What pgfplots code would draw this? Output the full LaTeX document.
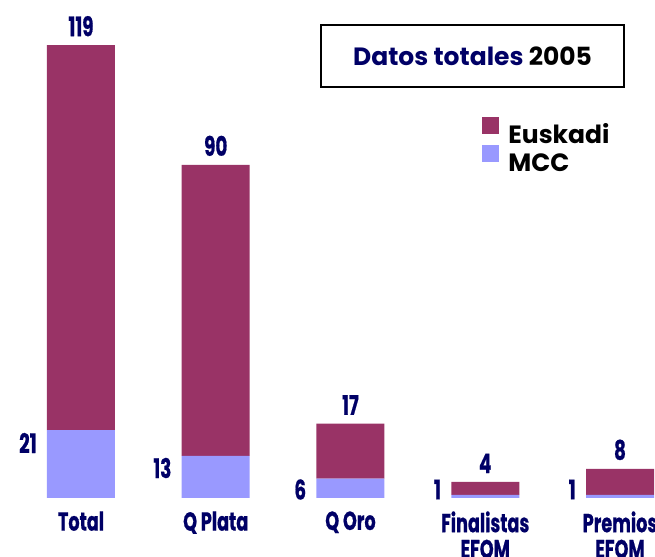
\documentclass[border=0pt]{standalone}
\usepackage{pgfplots}
\pgfplotsset{compat=1.18}
\usepackage{fontspec}
\setmainfont{Poppins}
\newfontfamily\condfont[FakeStretch=0.68, BoldFeatures={FakeBold=0.6}]{Poppins}
\newfontfamily\futfont{Poppins}
\definecolor{plum}{RGB}{153,51,102}
\definecolor{mccblue}{RGB}{153,153,255}
\definecolor{navytext}{RGB}{0,0,102}
\tikzset{
  toplab/.style={font=\condfont\bfseries\fontsize{13.5}{13.5}\selectfont, text=navytext, anchor=south, inner sep=0pt, yshift=4.2pt},
  mcclab/.style={font=\condfont\bfseries\fontsize{13.5}{13.5}\selectfont, text=navytext, anchor=east, inner sep=0pt, xshift=-22pt},
}
\begin{document}
\begin{tikzpicture}
\begin{axis}[
  at={(0pt,29.5pt)}, anchor=south west,
  scale only axis, width=327.5pt, height=249pt,
  xmin=-0.6011, xmax=4.2597, ymin=0, ymax=153.94,
  ybar stacked, bar width=34pt,
  axis line style={draw=none},
  ytick=\empty,
  major tick length=0pt,
  xtick={0,1,2,3,4},
  xticklabels={Total,Q Plata,Q Oro,Finalistas\\EFQM,Premios\\EFQM},
  xticklabel style={font=\condfont\bfseries\fontsize{13}{13}\selectfont, text=navytext, align=center, anchor=north, inner sep=0pt, yshift=-6.5pt},
  legend image code/.code={\fill[#1] (0pt,0pt) rectangle (8.5pt,8.5pt); \path (13pt,0pt);},
  legend style={at={(0.7359,0.765)}, anchor=north west, draw=none, fill=none, inner sep=0pt,
    font=\futfont\bfseries\fontsize{12.5}{12.5}\selectfont, row sep=1pt,
    nodes={inner sep=0pt, text height=9pt, text depth=0pt}},
  legend cell align=left,
  reverse legend,
  clip=false,
]
\addplot[fill=mccblue, draw=none] coordinates {(0,21) (1,13) (2,6) (3,1) (4,1)};
\addlegendentry{MCC}
\addplot[fill=plum, draw=none] coordinates {(0,119) (1,90) (2,17) (3,4) (4,8)};
\addlegendentry{Euskadi}
\node[toplab] at (axis cs:0,140) {119};
\node[toplab] at (axis cs:1,103) {90};
\node[toplab] at (axis cs:2,23) {17};
\node[toplab] at (axis cs:3,5) {4};
\node[toplab] at (axis cs:4,9) {8};
\node[mcclab] at (axis cs:0,17.0) {21};
\node[mcclab] at (axis cs:1,9.27) {13};
\node[mcclab] at (axis cs:2,2.63) {6};
\node[mcclab] at (axis cs:3,2.63) {1};
\node[mcclab] at (axis cs:4,2.63) {1};
\node[draw=black, line width=1.3pt, minimum width=151.5pt, minimum height=31pt, inner sep=0pt,
  font=\futfont\bfseries\fontsize{12.5}{12.5}\selectfont]
  at (axis description cs:0.7214,0.8876) {\textcolor{navytext}{Datos totales} 2005};
\end{axis}
\pgfresetboundingbox
\useasboundingbox (0,0) rectangle (327.5pt,278.5pt);
\end{tikzpicture}
\end{document}
